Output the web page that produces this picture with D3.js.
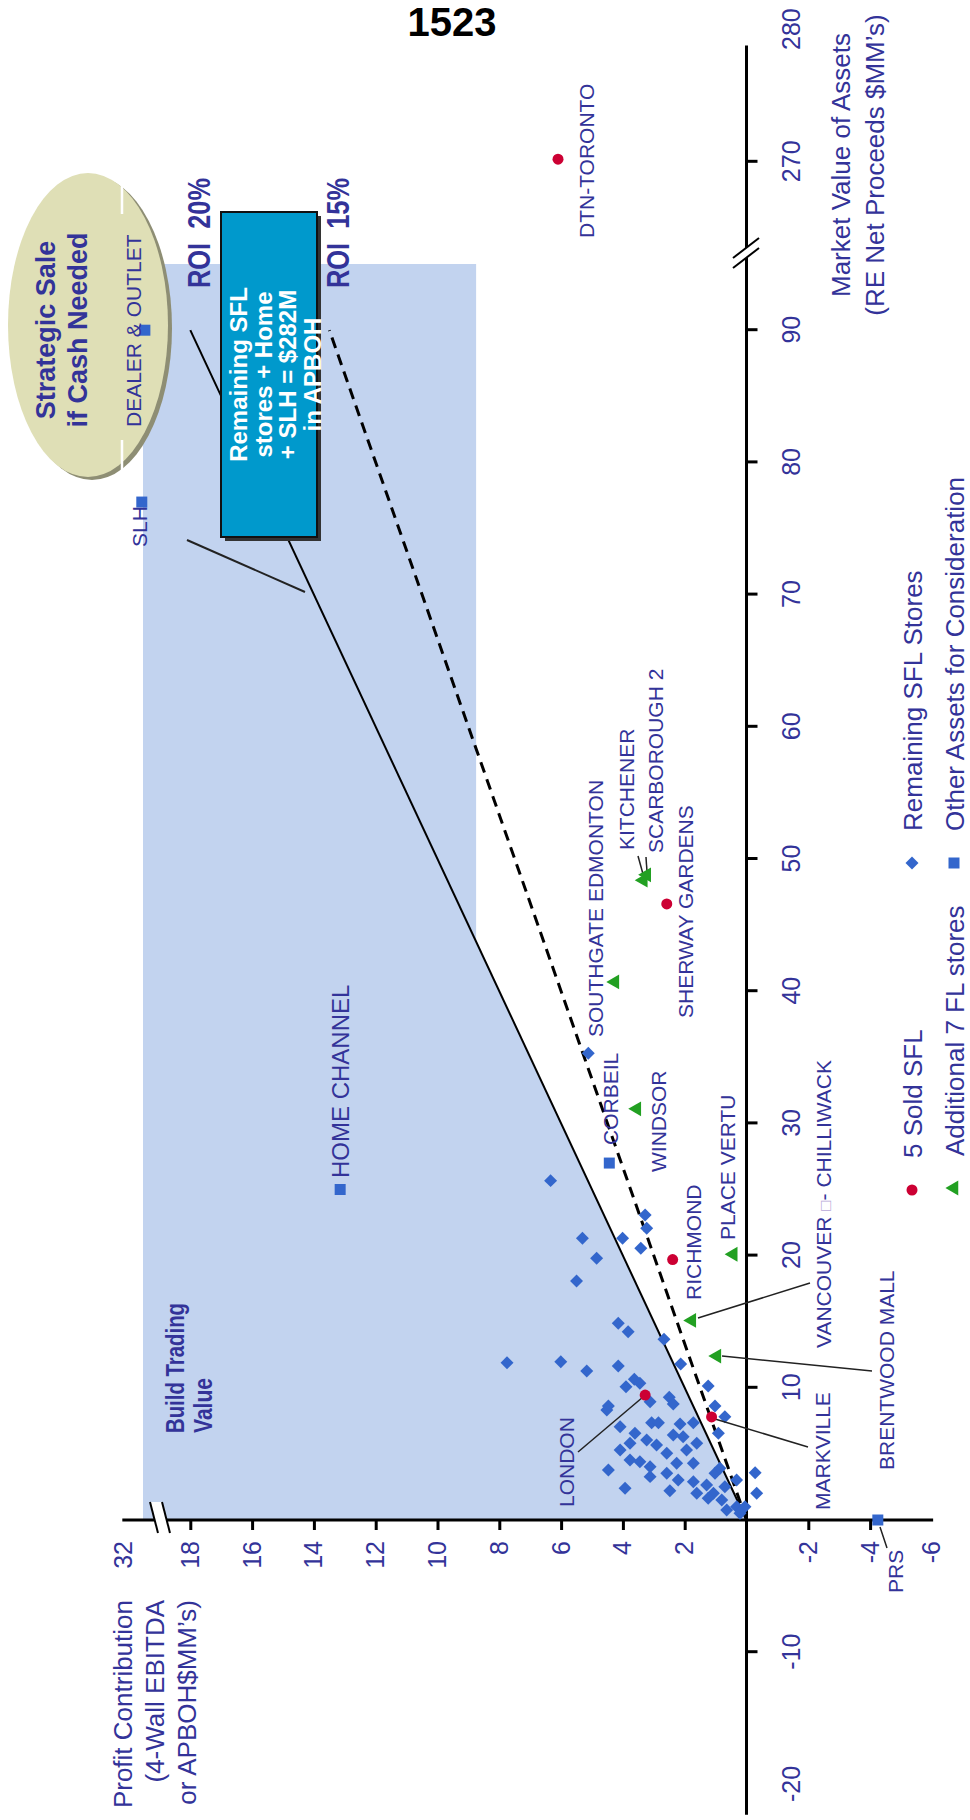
<!DOCTYPE html>
<html>
<head>
<meta charset="utf-8">
<script src="https://cdn.jsdelivr.net/npm/d3@7"></script>
<style>
  body { margin: 0; background: #fff; }
  svg { display: block; }
  text { font-family: "Liberation Sans", Arial, Helvetica, sans-serif; }
</style>
</head>
<body>
<svg id="chart" width="970" height="1820"></svg>
<script>
// ---- Data: [market value $MM, profit contribution $MM] ----
const remainingStores = [
  [35.3, 5.12], [25.67, 6.34], [23.07, 3.28], [22.07, 3.23], [21.31, 4.01],
  [21.31, 5.31], [20.55, 3.42], [19.80, 4.85], [18.08, 5.50], [14.88, 4.15],
  [14.24, 3.83], [13.67, 2.67], [11.97, 6.01], [11.27, 5.17], [11.65, 4.15],
  [11.80, 2.13], [10.64, 3.63], [10.08, 3.90], [10.34, 3.45], [10.14, 1.24],
  [8.62, 4.47], [8.32, 4.52], [8.95, 3.12], [9.28, 2.50], [8.77, 2.37],
  [8.62, 1.02], [7.81, 0.70], [7.06, 4.09], [7.36, 3.07], [7.36, 2.85],
  [7.26, 2.15], [7.36, 1.72], [6.56, 0.91], [6.56, 3.61], [5.80, 3.77],
  [6.05, 3.23], [6.43, 2.37], [6.30, 2.05], [5.30, 4.09], [5.67, 2.91],
  [5.05, 2.58], [5.30, 1.94], [5.80, 1.61], [4.54, 3.77], [4.41, 3.45],
  [4.03, 3.12], [4.29, 2.26], [4.29, 1.72], [3.78, 4.47], [3.28, 3.12],
  [3.53, 2.58], [3.53, 1.02], [3.91, 0.86], [3.58, -0.28], [2.40, 3.93],
  [2.22, 2.48], [3.03, 2.21], [2.90, 1.72], [2.65, 1.29], [2.02, 1.07],
  [2.52, 0.70], [3.03, 0.32], [2.02, -0.33], [1.51, 0.80], [0.76, 0.64],
  [1.01, 0.32], [1.01, 0.05], [0.51, 0.21], [1.64, 1.24], [2.02, 1.61],
  [11.9, 7.75]
];

const soldNames   = ["DTN-TORONTO", "SHERWAY GARDENS", "RICHMOND", "LONDON", "MARKVILLE"];
const soldMarket  = [270.2, 46.6, 19.7, 9.45, 7.8];
const soldProfit  = [6.1, 2.58, 2.39, 3.28, 1.13];

const addNames  = ["SOUTHGATE EDMONTON", "KITCHENER", "SCARBOROUGH 2", "WINDSOR", "PLACE VERTU", "VANCOUVER-CHILLIWACK", "BRENTWOOD MALL"];
const addMarket = [40.7, 48.4, 48.8, 31.1, 20.1, 15.1, 12.4];
const addProfit = [4.26, 3.34, 3.23, 3.55, 0.43, 1.77, 0.96];

const otherNames  = ["DEALER & OUTLET", "SLH", "HOME CHANNEL", "CORBEIL", "PRS"];
const otherMarket = [90, 77, 25, 27, 0];
const otherProfit = [31.3, 31.4, 13.15, 4.44, -4.25];

const marketTicks  = [-10, 10, 20, 30, 40, 50, 60, 70, 80, 90, 270];
const marketLabels = [-20, -10, 10, 20, 30, 40, 50, 60, 70, 80, 90, 270, 280];
const profitTicks  = [18, 16, 14, 12, 10, 8, 6, 4, 2, -2, -4];
const profitLabels = [32, 18, 16, 14, 12, 10, 8, 6, 4, 2, -2, -4, -6];

const roiRates = [0.20, 0.15];
const roiLabels = ["ROI\u00A0 20%", "ROI\u00A0 15%"];

// ---- Layout ----
const W = 970, H = 1820;
const BLUE_TEXT = "#333399";
const svg = d3.select("#chart");

// The chart is laid out sideways: local x runs up the page, local y runs across it.
const g = svg.append("g").attr("transform", `translate(0,${H}) rotate(-90)`);
const P = (px, py) => [H - py, px]; // page point -> local point

// Broken market-value scale (gap between ~96 and ~263)
const KX = 13.22, X0 = 300;
const xBreak = X0 + 96 * KX;
const x = d3.scaleLinear()
  .domain([-23, 96, 263.3, 282])
  .range([X0 - 23 * KX, xBreak, xBreak + 0.5, xBreak + 0.5 + (282 - 263.3) * KX]);

// Broken profit scale (gap between ~19 and ~31)
const KY = 30.9, Y0 = 746.5;
const yBreak = Y0 - 18.94 * KY;
const y = d3.scaleLinear()
  .domain([-6.2, 18.94, 30.77, 32.1])
  .range([Y0 + 6.2 * KY, yBreak, yBreak, yBreak - (32.1 - 30.77) * KY]);

// ---- Title ----
svg.append("text")
  .attr("x", 452).attr("y", 36)
  .attr("text-anchor", "middle")
  .attr("font-size", 40).attr("font-weight", 900)
  .attr("fill", "#000")
  .text("1523");

// ---- "Build Trading Value" zone ----
const zone = [[0, 0], [43.75, 8.75], [95, 8.75], [95, 31.36], [0, 31.36]];
g.append("path")
  .attr("d", d3.line().x(d => x(d[0])).y(d => y(d[1]))(zone) + "Z")
  .attr("fill", "#C2D3EF");

const bt = g.append("text")
  .attr("font-size", 26).attr("font-weight", "bold").attr("fill", BLUE_TEXT);
bt.append("tspan").attr("x", P(0, 1433)[0]).attr("y", 184)
  .attr("textLength", 130).attr("lengthAdjust", "spacingAndGlyphs").text("Build Trading");
bt.append("tspan").attr("x", P(0, 1433)[0]).attr("y", 212)
  .attr("textLength", 55).attr("lengthAdjust", "spacingAndGlyphs").text("Value");

// ---- "Strategic Sale" ellipse ----
const ec = P(88, 325);
g.append("ellipse").attr("cx", ec[0] - 3).attr("cy", ec[1] + 4).attr("rx", 152).attr("ry", 80).attr("fill", "#8E8E74");
g.append("ellipse").attr("cx", ec[0]).attr("cy", ec[1]).attr("rx", 152).attr("ry", 80).attr("fill", "#DFDFB6");
[[174, 214], [440, 476]].forEach(([a, b]) => {
  g.append("line")
    .attr("x1", H - a).attr("x2", H - b).attr("y1", 122).attr("y2", 122)
    .attr("stroke", "#fff").attr("stroke-width", 2.5);
});
g.append("text")
  .attr("text-anchor", "middle").attr("font-size", 27).attr("font-weight", "bold").attr("fill", BLUE_TEXT)
  .selectAll("tspan").data(["Strategic Sale", "if Cash Needed"]).join("tspan")
  .attr("x", H - 330).attr("y", (d, i) => 55 + i * 32)
  .text(d => d);

// ---- ROI reference lines ----
roiRates.forEach((r, i) => {
  g.append("line")
    .attr("x1", x(0)).attr("y1", y(0))
    .attr("x2", x(90)).attr("y2", y(90 * r))
    .attr("stroke", "#000")
    .attr("stroke-width", i === 0 ? 2 : 3)
    .attr("stroke-dasharray", i === 0 ? null : "11,7");
  g.append("text")
    .attr("x", H - 288).attr("y", y(90 * r) + 20)
    .attr("font-size", 32).attr("font-weight", "bold").attr("fill", BLUE_TEXT)
    .attr("textLength", 110).attr("lengthAdjust", "spacingAndGlyphs")
    .style("white-space", "pre")
    .text(roiLabels[i]);
});

// ---- Call-out box ----
const boxU0 = H - 537, boxU1 = H - 212, boxV0 = 221, boxV1 = 317;
g.append("line")
  .attr("x1", P(187, 540)[0]).attr("y1", P(187, 540)[1])
  .attr("x2", P(305, 592)[0]).attr("y2", P(305, 592)[1])
  .attr("stroke", "#222").attr("stroke-width", 2);
g.append("rect")
  .attr("x", boxU0 - 4).attr("y", boxV0 + 4)
  .attr("width", boxU1 - boxU0).attr("height", boxV1 - boxV0)
  .attr("fill", "#333");
g.append("rect")
  .attr("x", boxU0).attr("y", boxV0)
  .attr("width", boxU1 - boxU0).attr("height", boxV1 - boxV0)
  .attr("fill", "#0099CC").attr("stroke", "#111").attr("stroke-width", 2);
g.append("text")
  .attr("text-anchor", "middle").attr("font-size", 24).attr("font-weight", "bold").attr("fill", "#fff")
  .selectAll("tspan").data(["Remaining SFL", "stores + Home", "+ SLH = $282M", "in APBOH"]).join("tspan")
  .attr("x", (boxU0 + boxU1) / 2).attr("y", (d, i) => 247 + i * 24.5)
  .text(d => d);

// ---- Axes ----
const axisColor = "#000";
// market value axis (runs up the page)
g.append("line")
  .attr("x1", x(-22.3)).attr("x2", x(278.8)).attr("y1", y(0)).attr("y2", y(0))
  .attr("stroke", axisColor).attr("stroke-width", 3);
const mTicks = g.append("g").attr("transform", `translate(0,${y(0)})`)
  .call(d3.axisBottom(x).tickValues(marketTicks).tickSize(11).tickFormat(""));
mTicks.select(".domain").remove();
mTicks.selectAll(".tick line").attr("stroke", axisColor).attr("stroke-width", 3);
const mLabels = g.append("g").attr("transform", `translate(0,${y(0)})`)
  .call(d3.axisBottom(x).tickValues(marketLabels).tickSize(0).tickPadding(36).tickFormat(d => String(d)));
mLabels.select(".domain").remove();
mLabels.selectAll("text").attr("font-size", 25).attr("fill", BLUE_TEXT).attr("font-family", null);

// profit axis (runs across the page)
g.append("line")
  .attr("x1", x(0)).attr("x2", x(0)).attr("y1", y(32.03)).attr("y2", y(-6.04))
  .attr("stroke", axisColor).attr("stroke-width", 3);
const pTicks = g.append("g").attr("transform", `translate(${x(0)},0)`)
  .call(d3.axisLeft(y).tickValues(profitTicks).tickSize(10).tickFormat(""));
pTicks.select(".domain").remove();
pTicks.selectAll(".tick line").attr("stroke", axisColor).attr("stroke-width", 3);
const pLabels = g.append("g").attr("transform", `translate(${x(0)},0)`)
  .call(d3.axisLeft(y).tickValues(profitLabels).tickSize(0).tickPadding(21).tickFormat(d => String(d)));
pLabels.select(".domain").remove();
pLabels.selectAll("text").attr("font-size", 25).attr("fill", BLUE_TEXT).attr("font-family", null);

// axis break marks
function breakMarks(a1, a2, b1, b2) {
  g.append("path")
    .attr("d", `M${a1[0]},${a1[1]}L${a2[0]},${a2[1]}L${b2[0]},${b2[1]}L${b1[0]},${b1[1]}Z`)
    .attr("fill", "#fff");
  [[a1, a2], [b1, b2]].forEach(([p, q]) => {
    g.append("line").attr("x1", p[0]).attr("y1", p[1]).attr("x2", q[0]).attr("y2", q[1])
      .attr("stroke", "#000").attr("stroke-width", 2);
  });
}
breakMarks(P(150, 1502), P(158, 1533), P(162, 1502), P(170, 1533));
breakMarks(P(733, 258), P(759, 238), P(733, 268), P(759, 248));

// axis titles
g.append("text")
  .attr("text-anchor", "middle").attr("font-size", 26).attr("fill", BLUE_TEXT)
  .selectAll("tspan").data(["Market Value of Assets", "(RE Net Proceeds $MM\u2019s)"]).join("tspan")
  .attr("x", H - 165).attr("y", (d, i) => 850 + i * 34)
  .text(d => d);
g.append("text")
  .attr("text-anchor", "end").attr("font-size", 26).attr("fill", BLUE_TEXT)
  .selectAll("tspan").data(["Profit Contribution", "(4-Wall EBITDA", "or APBOH$MM\u2019s)"]).join("tspan")
  .attr("x", H - 1600).attr("y", (d, i) => 132 + i * 32)
  .text(d => d);

// ---- Markers ----
const diamond = d3.symbol(d3.symbolSquare, 84)();
const square = d3.symbol(d3.symbolSquare, 121)();
const circle = d3.symbol(d3.symbolCircle, 95)();
const triangle = d3.symbol(d3.symbolTriangle, 95)();
const MARK_BLUE = "#3366CC", MARK_RED = "#CC0033", MARK_GREEN = "#22A022";

g.append("g").selectAll("path").data(remainingStores).join("path")
  .attr("d", diamond)
  .attr("transform", d => `translate(${x(d[0])},${y(d[1])}) rotate(45)`)
  .attr("fill", MARK_BLUE);

// ---- Leader lines ----
const leaders = [
  [[578, 1452], [643, 1397]],
  [[808, 1447], [715, 1419]],
  [[872, 1371], [722, 1356]],
  [[810, 1283], [698, 1318]],
  [[880, 1527], [887, 1548]],
  [[638, 856], [643, 874]],
  [[646, 857], [647, 872]]
];
leaders.forEach(([a, b]) => {
  const p = P(a[0], a[1]), q = P(b[0], b[1]);
  g.append("line").attr("x1", p[0]).attr("y1", p[1]).attr("x2", q[0]).attr("y2", q[1])
    .attr("stroke", "#222").attr("stroke-width", 1.5);
});

g.append("g").selectAll("path").data(d3.range(otherNames.length)).join("path")
  .attr("d", square)
  .attr("transform", i => `translate(${x(otherMarket[i])},${y(otherProfit[i])})`)
  .attr("fill", MARK_BLUE);
g.append("g").selectAll("path").data(d3.range(addNames.length)).join("path")
  .attr("d", triangle)
  .attr("transform", i => `translate(${x(addMarket[i])},${y(addProfit[i])})`)
  .attr("fill", MARK_GREEN);
g.append("g").selectAll("path").data(d3.range(soldNames.length)).join("path")
  .attr("d", circle)
  .attr("transform", i => `translate(${x(soldMarket[i])},${y(soldProfit[i])})`)
  .attr("fill", MARK_RED);

// ---- Point labels: [text, page x centre, page y start, size] ----
const pointLabels = [
  ["DTN-TORONTO", 586, 238, 21],
  ["DEALER & OUTLET", 133, 427, 21],
  ["SLH", 139, 547, 21],
  ["HOME CHANNEL", 340, 1178, 24],
  ["CORBEIL", 610, 1145, 21],
  ["WINDSOR", 658, 1172, 21],
  ["RICHMOND", 693, 1300, 21],
  ["PLACE VERTU", 727, 1240, 21],
  ["SOUTHGATE EDMONTON", 595, 1037, 21],
  ["KITCHENER", 626, 850, 21],
  ["SCARBOROUGH 2", 655, 853, 21],
  ["SHERWAY GARDENS", 685, 1018, 21],
  ["BRENTWOOD MALL", 886, 1470, 21],
  ["MARKVILLE", 822, 1510, 21],
  ["LONDON", 566, 1507, 21],
  ["PRS", 895, 1593, 21]
];
g.append("g").selectAll("text").data(pointLabels).join("text")
  .attr("x", d => H - d[2]).attr("y", d => d[1] + d[3] * 0.36)
  .attr("font-size", d => d[3]).attr("fill", BLUE_TEXT)
  .text(d => d[0]);

const vc = g.append("text")
  .attr("x", H - 1348).attr("y", 823 + 7.5)
  .attr("font-size", 21).attr("fill", BLUE_TEXT);
vc.append("tspan").text("VANCOUVER ");
vc.append("tspan").attr("fill", "#B8A8D8").attr("font-size", 17).text("\u25A1");
vc.append("tspan").text("- CHILLIWACK");

// ---- Legend ----
const legend = [
  { sym: "diamond", label: "Remaining SFL Stores", u: H - 863, v: 912, color: MARK_BLUE },
  { sym: "square", label: "Other Assets for Consideration", u: H - 863, v: 954, color: MARK_BLUE },
  { sym: "circle", label: "5 Sold SFL", u: H - 1190, v: 912, color: MARK_RED },
  { sym: "triangle", label: "Additional 7 FL stores", u: H - 1188, v: 954, color: MARK_GREEN }
];
const symPath = { diamond, square, circle, triangle };
legend.forEach(d => {
  g.append("path").attr("d", symPath[d.sym])
    .attr("transform", `translate(${d.u},${d.v})${d.sym === "diamond" ? " rotate(45)" : ""}`)
    .attr("fill", d.color);
  g.append("text").attr("x", d.u + 32).attr("y", d.v + 9.5)
    .attr("font-size", 26).attr("fill", BLUE_TEXT)
    .text(d.label);
});
</script>
</body>
</html>
